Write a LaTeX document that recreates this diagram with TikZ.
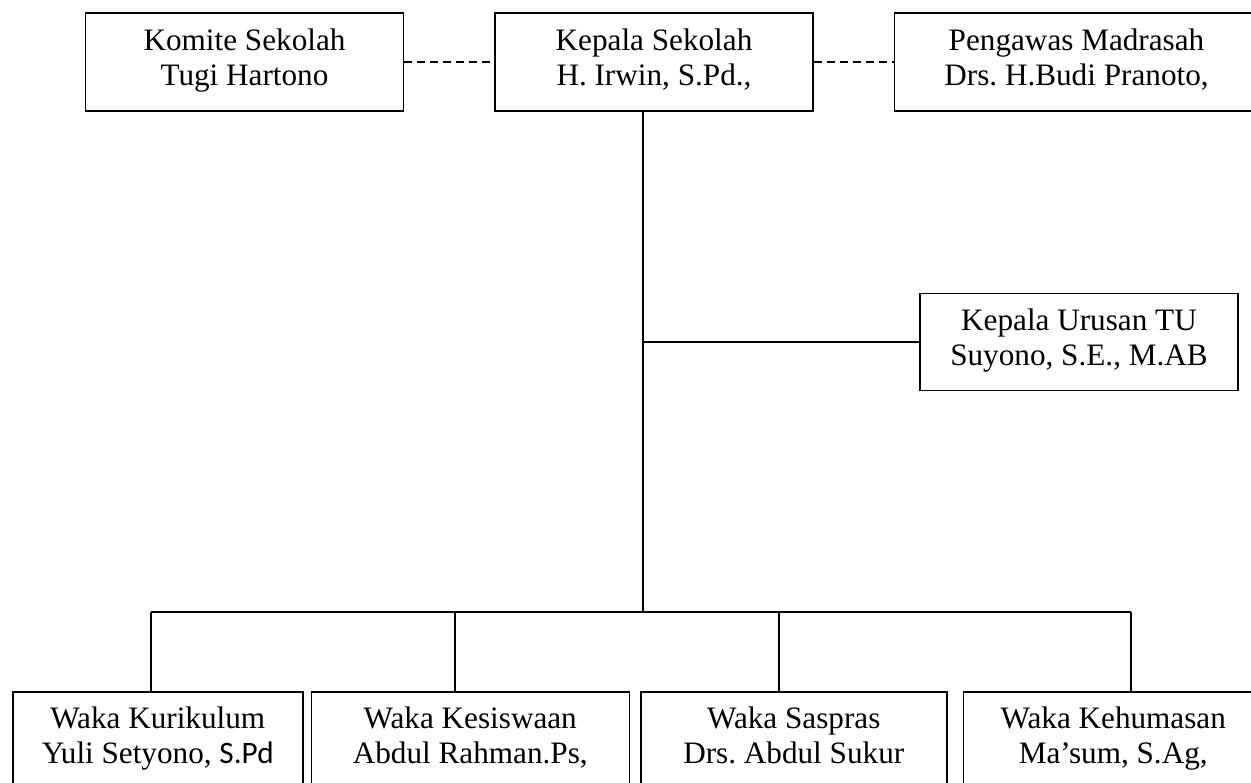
\documentclass[tikz,border=0pt]{standalone}
\usepackage{fontspec}
\setmainfont{Liberation Serif}
\newfontfamily\sansbit{Carlito}
\usetikzlibrary{positioning}
\frenchspacing

\begin{document}
\begin{tikzpicture}[
    x=0.5pt, y=-0.5pt,
    every node/.style={inner sep=0pt},
    orgbox/.style={
        draw=black, line width=0.75pt, fill=white,
        minimum height=49pt, align=center,
        font=\fontsize{15.6}{17.5}\selectfont,
        execute at begin node={\strut}, execute at end node={\strut}
    },
    linkline/.style={line width=0.75pt, black},
    dashline/.style={linkline, dash pattern=on 4pt off 2.5pt},
]
\useasboundingbox (0,0) rectangle (1251,782);
\clip (0,0) rectangle (1251,782);
\fill[white] (0,0) rectangle (1251,782);

% ============ TOP ROW: head, committee, supervisor ============
\node[orgbox, minimum width=159pt] (kepala) at (654,62) {Kepala Sekolah\\H. Irwin, S.Pd.,};
\node[orgbox, minimum width=159pt, left=45pt of kepala] (komite) {Komite Sekolah\\Tugi Hartono};
\node[orgbox, minimum width=182pt, right=40pt of kepala] (pengawas) {Pengawas Madrasah\\Drs. H.Budi Pranoto,};

% Dashed coordination lines
\draw[dashline] (komite.east) -- (kepala.west);
\draw[dashline] (kepala.east) -- (pengawas.west);

% ============ ADMINISTRATION ============
\node[orgbox, minimum width=159pt, minimum height=48.5pt] (tu) at (1079,342) {Kepala Urusan TU\\Suyono, S.E., M.AB};

% ============ BOTTOM ROW: vice heads ============
\node[orgbox, minimum width=145pt, anchor=north west] (kur) at (12,691) {Waka Kurikulum\\Yuli Setyono, {\sansbit S.Pd}};
\node[orgbox, minimum width=159pt, right=3.5pt of kur] (kes) {Waka Kesiswaan\\Abdul Rahman.Ps,};
\node[orgbox, minimum width=153pt, right=5pt of kes] (sar) {Waka Saspras\\Drs. Abdul Sukur};
\node[orgbox, minimum width=150pt, right=7.5pt of sar] (hum) {Waka Kehumasan\\Ma'sum, S.Ag,};

% Main trunk and branches
\coordinate (hub) at (643,612);
\coordinate (tujoin) at (643,342);
\draw[linkline] (kepala.south -| hub) -- (hub);
\draw[linkline] (tujoin) -- (tu.west);

\foreach \name/\xx in {d1/151, d2/455, d3/779, d4/1131} {
    \coordinate (\name) at (\xx,612);
}
\draw[linkline] (d1) -- (d4);
\foreach \drop/\tgt in {d1/kur, d2/kes, d3/sar, d4/hum} {
    \draw[linkline] (\drop) -- (\drop |- \tgt.north);
}

\end{tikzpicture}
\end{document}
